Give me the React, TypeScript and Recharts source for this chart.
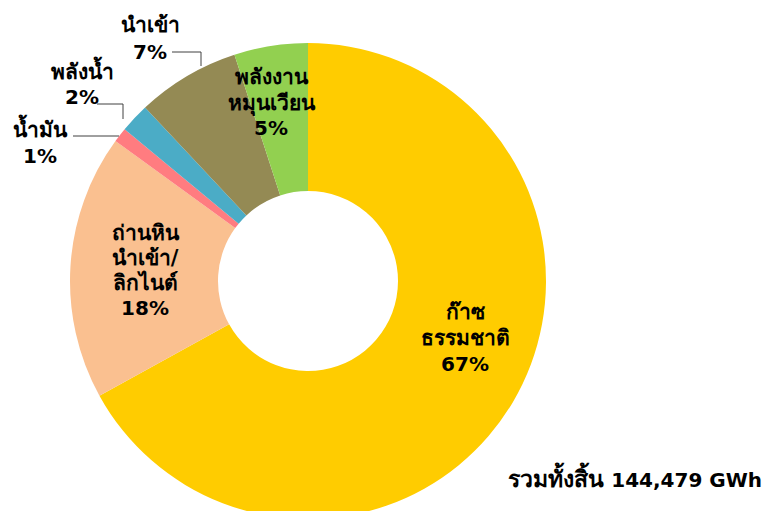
import { PieChart, Pie, Cell } from 'recharts';

const categories = ['ก๊าซธรรมชาติ', 'ถ่านหินนำเข้า/ลิกไนต์', 'น้ำมัน', 'พลังน้ำ', 'นำเข้า', 'พลังงานหมุนเวียน'];
const shares = [67, 18, 1, 2, 7, 5];
const labelLines = [
  ['ก๊าซ', 'ธรรมชาติ', '67%'],
  ['ถ่านหิน', 'นำเข้า/', 'ลิกไนต์', '18%'],
  ['น้ำมัน', '1%'],
  ['พลังน้ำ', '2%'],
  ['นำเข้า', '7%'],
  ['พลังงาน', 'หมุนเวียน', '5%'],
];
const totalLabel = 'รวมทั้งสิ้น';
const totalValue = '144,479 GWh';

const colors = ['#FFCC00', '#FAC090', '#FF7C80', '#4BACC6', '#948A54', '#92D050'];
const FONT = "Tahoma, 'DejaVu Sans', sans-serif";

// label placement relative to pie centre
const layout = [
  { dx: 157, dy: 31, step: 26, leader: null },
  { dx: -163, dy: -48, step: 25, leader: null },
  { dx: -268, dy: -151, step: 26, leader: [[-235, -145], [-189, -145]] },
  { dx: -226, dy: -209, step: 25, leader: [[-211, -177], [-185, -177], [-185, -162]] },
  { dx: -158, dy: -256, step: 27, leader: [[-136, -229], [-107, -229], [-107, -215]] },
  { dx: -37, dy: -204, step: 25.5, leader: null },
];

const data = categories.map((name, i) => ({ name, value: shares[i] }));

const renderLabel = (props: any) => {
  const { cx, cy, index } = props;
  const l = layout[index];
  return (
    <g key={`lbl-${index}`}>
      {l.leader && (
        <polyline
          points={l.leader.map((p) => `${cx + p[0]},${cy + p[1]}`).join(' ')}
          fill="none"
          stroke="#404040"
          strokeWidth={1}
        />
      )}
      {labelLines[index].map((t, j) => (
        <text
          key={j}
          x={cx + l.dx}
          y={cy + l.dy + j * l.step}
          textAnchor="middle"
          dominantBaseline="central"
          fontFamily={FONT}
          fontWeight="bold"
          fontSize={/%/.test(t) ? 20 : 21}
          fill="#000"
        >
          {t}
        </text>
      ))}
    </g>
  );
};

export default function App() {
  return (
    <div style={{ position: 'fixed', left: 0, top: 0, width: 767, height: 511, background: '#fff' }}>
      <PieChart width={767} height={511} margin={{ top: 0, right: 0, bottom: 0, left: 0 }}>
        <Pie
          data={data}
          dataKey="value"
          cx={308}
          cy={281}
          innerRadius={90}
          outerRadius={238}
          startAngle={90}
          endAngle={-270}
          stroke="none"
          labelLine={false}
          label={renderLabel}
          isAnimationActive={false}
        >
          {data.map((entry, index) => (
            <Cell key={`cell-${index}`} fill={colors[index]} />
          ))}
        </Pie>
      </PieChart>
      <div
        style={{
          position: 'absolute',
          right: 5,
          top: 461,
          fontFamily: FONT,
          fontWeight: 'bold',
          color: '#000',
          whiteSpace: 'nowrap',
        }}
      >
        <span style={{ fontSize: 23 }}>{totalLabel}</span>
        <span style={{ fontSize: 20 }}> {totalValue}</span>
      </div>
    </div>
  );
}
